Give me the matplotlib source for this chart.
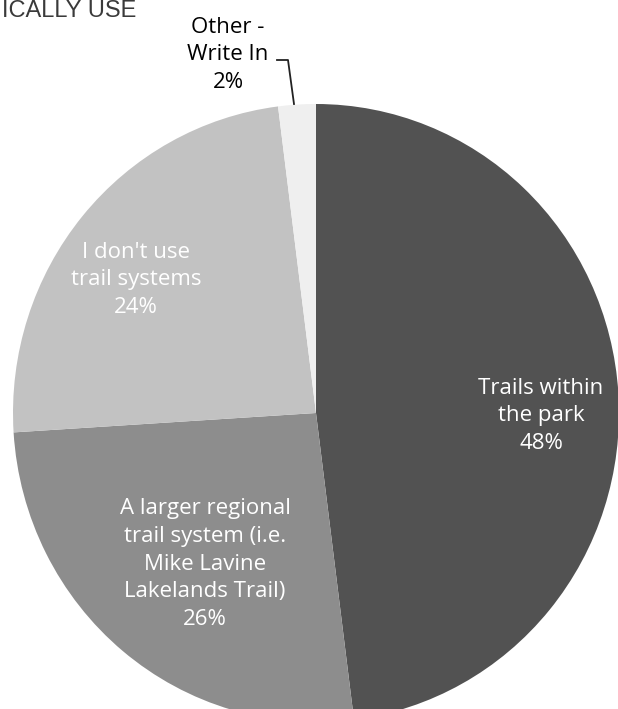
import matplotlib
matplotlib.use("Agg")
import matplotlib.pyplot as plt

# Survey answers (share of respondents, %)
categories = ["Trails within\nthe park",
              "A larger regional\ntrail system (i.e.\nMike Lavine\nLakelands Trail)",
              "I don't use\ntrail systems",
              "Other -\nWrite In"]
shares = [48, 26, 24, 2]
colors = ["#525252", "#8d8d8d", "#c2c2c2", "#efefef"]
text_colors = ["white", "white", "white", "black"]

# Pie in the picture: centre and radii in pixels (slightly taller than wide on the scan)
W, H = 618, 709
CX, CY, RX, RY = 316, 413, 303, 309


def px2d(px, py):
    # picture pixel -> data coords of a unit pie
    return (px - CX) / RX, (CY - py) / RY


fig = plt.figure(figsize=(W / 100, H / 100), dpi=100)
ax = fig.add_axes([0, 0, 1, 1])
ax.pie(shares, colors=colors, startangle=90, counterclock=False, radius=1,
       wedgeprops=dict(edgecolor="none"))
ax.set_aspect("auto")
ax.set_xlim(-CX / RX, (W - CX) / RX)
ax.set_ylim((CY - H) / RY, CY / RY)
ax.axis("off")

# label anchors (pixel positions of each text block centre)
label_pos = [(541, 416), (205, 564), (136, 280), (228, 55)]
for cat, val, pos, tc in zip(categories, shares, label_pos, text_colors):
    x, y = px2d(*pos)
    ax.text(x, y, f"{cat}\n{val}%", ha="center", va="center", color=tc,
            fontsize=16, family="Open Sans", linespacing=1.42)

# leader line for the small slice
lx, ly = zip(px2d(277, 60), px2d(288, 60), px2d(294, 104))
ax.plot(lx, ly, color="#222222", lw=1.3)

# title from the scanned page (cut off on the left in the source)
fig.text(2 / W, 1 - 17 / H, "ICALLY USE", ha="left", va="baseline",
         fontsize=17, family="Liberation Sans", color="#3a3a3a")

fig.savefig("out.png", dpi=100)
